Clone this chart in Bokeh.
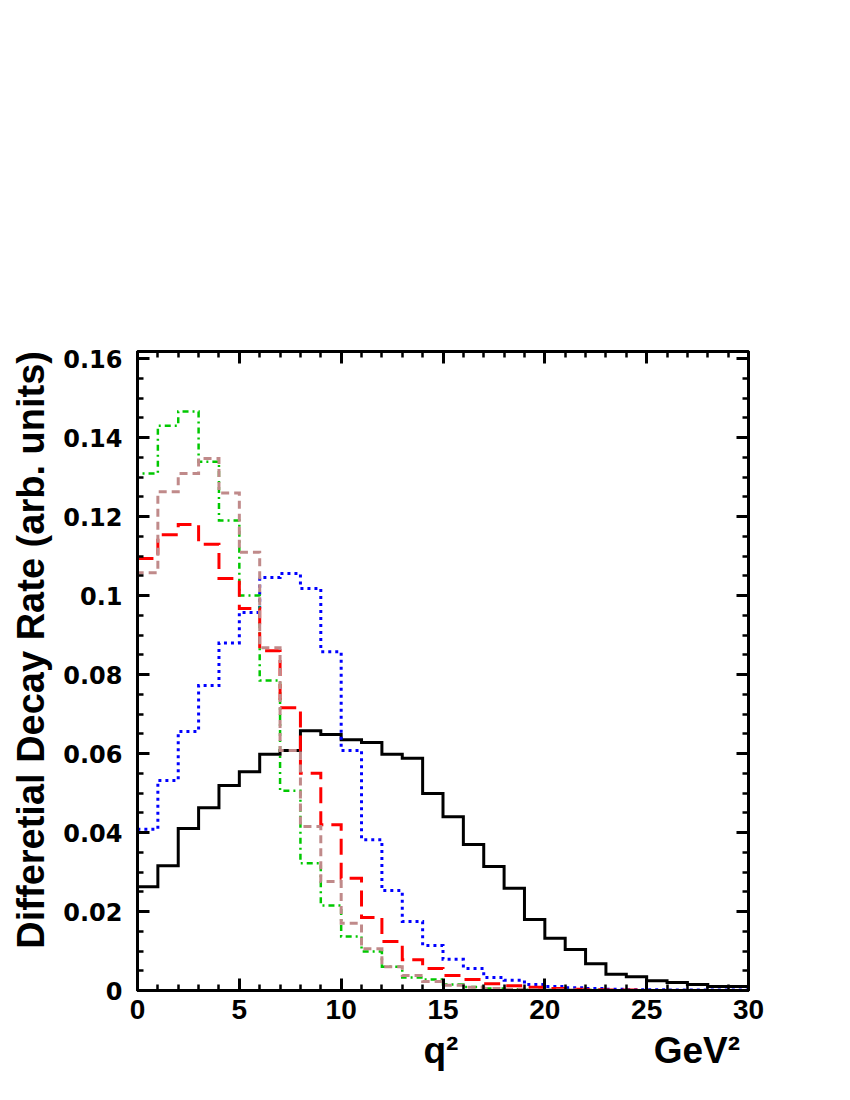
import numpy as np
from bokeh.plotting import figure
from bokeh.models import Range1d, LinearAxis, FixedTicker, CustomJSTickFormatter
from bokeh.embed import file_html
from bokeh.resources import INLINE

# ---- data (bin contents, 30 bins of width 1 GeV^2 from 0 to 30) ----
bin_edges = list(range(0, 31))

black_vals = [0.0263, 0.0316, 0.0410, 0.0463, 0.0519, 0.0554, 0.0598, 0.0608, 0.0658, 0.0648,
              0.0635, 0.0628, 0.0598, 0.0588, 0.0499, 0.0440, 0.0370, 0.0314, 0.0259, 0.0180,
              0.0132, 0.0104, 0.0068, 0.0041, 0.0035, 0.0025, 0.0020, 0.0015, 0.0010, 0.0010]

blue_vals = [0.0408, 0.0532, 0.0656, 0.0772, 0.0880, 0.0957, 0.1046, 0.1056, 0.1018, 0.0858,
             0.0608, 0.0382, 0.0253, 0.0175, 0.0114, 0.0079, 0.0056, 0.0033, 0.0026, 0.0015,
             0.0010, 0.0007, 0.0005, 0.0003, 0.0002, 0.0002, 0.0001, 0.0001, 0.0001, 0.0001]

green_vals = [0.1309, 0.1430, 0.1466, 0.1339, 0.1190, 0.1000, 0.0785, 0.0506, 0.0322, 0.0215,
              0.0137, 0.0099, 0.0060, 0.0033, 0.0028, 0.0015, 0.0009, 0.0005, 0.0003, 0.0002,
              0.0001, 0.0001, 0.0001, 0.0, 0.0, 0.0, 0.0, 0.0, 0.0, 0.0]

red_vals = [0.1094, 0.1154, 0.1180, 0.1130, 0.1043, 0.0967, 0.0860, 0.0716, 0.0550, 0.0420,
            0.0284, 0.0185, 0.0124, 0.0078, 0.0056, 0.0038, 0.0028, 0.0017, 0.0012, 0.0008,
            0.0005, 0.0003, 0.0002, 0.0001, 0.0001, 0.0, 0.0, 0.0, 0.0, 0.0]

brown_vals = [0.1058, 0.1263, 0.1309, 0.1347, 0.1260, 0.1110, 0.0868, 0.0608, 0.0415, 0.0276,
              0.0170, 0.0106, 0.0060, 0.0038, 0.0023, 0.0013, 0.0008, 0.0005, 0.0003, 0.0002,
              0.0001, 0.0001, 0.0, 0.0, 0.0, 0.0, 0.0, 0.0, 0.0, 0.0]

x_ticks = [0, 5, 10, 15, 20, 25, 30]
y_ticks = [0.0, 0.02, 0.04, 0.06, 0.08, 0.10, 0.12, 0.14, 0.16]

y_title = "Differetial Decay Rate (arb. units)"
x_title_left = "q²"
x_title_right = "GeV²"

FONT = "Liberation Sans"
NBSP = "\u00a0"

p = figure(frame_width=611, frame_height=639,
           min_border_left=137, min_border_right=90,
           min_border_top=351, min_border_bottom=98,
           x_range=Range1d(0, 30), y_range=Range1d(0, 0.1618),
           output_backend="svg", toolbar_location=None,
           background_fill_color="white", border_fill_color="white")
p.grid.visible = False
p.outline_line_color = "black"
p.outline_line_width = 3


def hist(vals, color, width, dash):
    xs = [bin_edges[0]] + bin_edges[:-1] + [bin_edges[-1], bin_edges[-1]]
    ys = [0.0] + list(vals) + [vals[-1], 0.0]
    p.step(xs, ys, mode="after", line_color=color, line_width=width,
           line_dash=dash, line_join="miter")


hist(black_vals, "black", 3, "solid")
hist(blue_vals, "#0000ff", 3, "3 4")
hist(green_vals, "#00c800", 2.5, "6 4 2 4")
hist(red_vals, "#ff0000", 3, "16 8")
hist(brown_vals, "#c08a8a", 3, "8 5")

x_minor = list(range(0, 31))
y_minor = [round(0.005 * i, 4) for i in range(0, 33)]


def style_axis(ax, ticks, minor, show_labels):
    ax.ticker = FixedTicker(ticks=ticks, minor_ticks=minor)
    ax.axis_line_width = 3
    ax.axis_line_color = "black"
    ax.major_tick_in = 12
    ax.major_tick_out = 0
    ax.minor_tick_in = 6
    ax.minor_tick_out = 0
    ax.major_tick_line_width = 3
    ax.minor_tick_line_width = 2.5
    ax.major_tick_line_color = "black"
    ax.minor_tick_line_color = "black"
    ax.major_label_text_color = "black"
    if not show_labels:
        ax.major_label_text_font_size = "0px"
        ax.major_label_text_alpha = 0


xa = p.xaxis[0]
style_axis(xa, x_ticks, x_minor, True)
xa.major_label_text_font = FONT
xa.major_label_text_font_style = "bold"
xa.major_label_text_font_size = "28px"
xa.major_label_standoff = 9
# both x titles share one label row: "q²" centred near the middle, "GeV²" at the right end
xa.axis_label = NBSP * 27 + x_title_left + NBSP * 19 + x_title_right
xa.axis_label_text_font = FONT
xa.axis_label_text_font_style = "bold"
xa.axis_label_text_font_size = "37px"
xa.axis_label_text_color = "black"
xa.axis_label_standoff = 8

ya = p.yaxis[0]
style_axis(ya, y_ticks, y_minor, True)
ya.major_label_text_font = "DejaVu Sans"
ya.major_label_text_font_style = "bold"
ya.major_label_text_font_size = "24px"
ya.major_label_standoff = 15
ya.formatter = CustomJSTickFormatter(
    code="return tick == 0 ? '0' : String(parseFloat(tick.toFixed(2)));")
ya.axis_label = NBSP * 4 + y_title
ya.axis_label_text_font = FONT
ya.axis_label_text_font_style = "bold"
ya.axis_label_text_font_size = "38px"
ya.axis_label_text_color = "black"
ya.axis_label_standoff = 8

top = LinearAxis()
style_axis(top, x_ticks, x_minor, False)
p.add_layout(top, "above")
right = LinearAxis()
style_axis(right, y_ticks, y_minor, False)
p.add_layout(right, "right")

open("out.html", "w").write(file_html(p, INLINE))
